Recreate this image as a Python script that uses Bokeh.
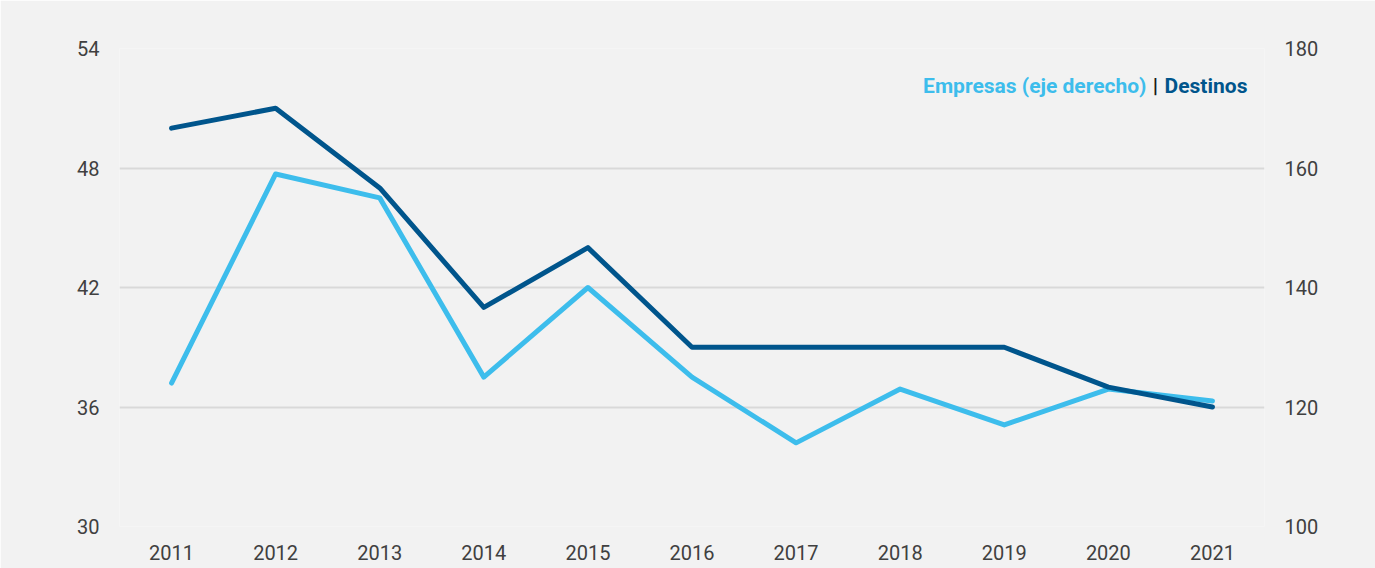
from bokeh.plotting import figure
from bokeh.models import Range1d, LinearAxis, FixedTicker, Label
from bokeh.embed import file_html
from bokeh.resources import INLINE

years = [2011, 2012, 2013, 2014, 2015, 2016, 2017, 2018, 2019, 2020, 2021]
destinos = [50, 51, 47, 41, 44, 39, 39, 39, 39, 37, 36]
empresas = [124, 159, 155, 125, 140, 125, 114, 123, 117, 123, 121]
left_ticks = [30, 36, 42, 48, 54]
right_ticks = [100, 120, 140, 160, 180]

BG = "#f2f2f2"
DARK = "#00558c"
LIGHT = "#3dbdec"
TXT = "#404040"
FONT = "Roboto"

p = figure(width=1375, height=568, output_backend="svg", toolbar_location=None,
           x_range=Range1d(2010.5, 2021.5), y_range=Range1d(30, 54),
           min_border_left=119, min_border_right=111, min_border_top=48, min_border_bottom=42)
p.extra_y_ranges = {"right": Range1d(100, 180)}
p.background_fill_color = BG
p.border_fill_color = BG
p.outline_line_color = None

p.xgrid.grid_line_color = None
p.ygrid.grid_line_color = "#d9d9d9"
p.ygrid.grid_line_width = 2
p.ygrid.ticker = FixedTicker(ticks=left_ticks)

p.xaxis.ticker = FixedTicker(ticks=years)
p.yaxis.ticker = FixedTicker(ticks=left_ticks)

right = LinearAxis(y_range_name="right", ticker=FixedTicker(ticks=right_ticks))
p.add_layout(right, "right")

for ax in p.xaxis + p.yaxis:
    ax.axis_line_color = None
    ax.major_tick_line_color = None
    ax.minor_tick_line_color = None
    ax.major_tick_in = 0
    ax.major_tick_out = 0
    ax.minor_tick_out = 0
    ax.major_label_text_font = FONT
    ax.major_label_text_font_size = "20px"
    ax.major_label_text_color = TXT
for ax in p.yaxis:
    ax.major_label_standoff = 20
p.xaxis.major_label_standoff = 18

p.line(years, empresas, y_range_name="right", line_color=LIGHT, line_width=5,
       line_cap="round", line_join="round")
p.line(years, destinos, line_color=DARK, line_width=5,
       line_cap="round", line_join="round")

lx = 2021.336
ly = 52.14
p.add_layout(Label(x=lx, y=ly, text="Destinos", text_font=FONT, text_font_size="21px",
                   text_font_style="bold", text_color=DARK, text_align="right",
                   text_baseline="middle"))
p.add_layout(Label(x=lx, y=ly, x_offset=-92, text="|", text_font=FONT, text_font_size="21px",
                   text_font_style="bold", text_color="#1a1a1a", text_align="center",
                   text_baseline="middle"))
p.add_layout(Label(x=lx, y=ly, x_offset=-101, text="Empresas (eje derecho)", text_font=FONT,
                   text_font_size="21px", text_font_style="bold", text_color=LIGHT,
                   text_align="right", text_baseline="middle"))

open("out.html", "w").write(file_html(p, INLINE))
